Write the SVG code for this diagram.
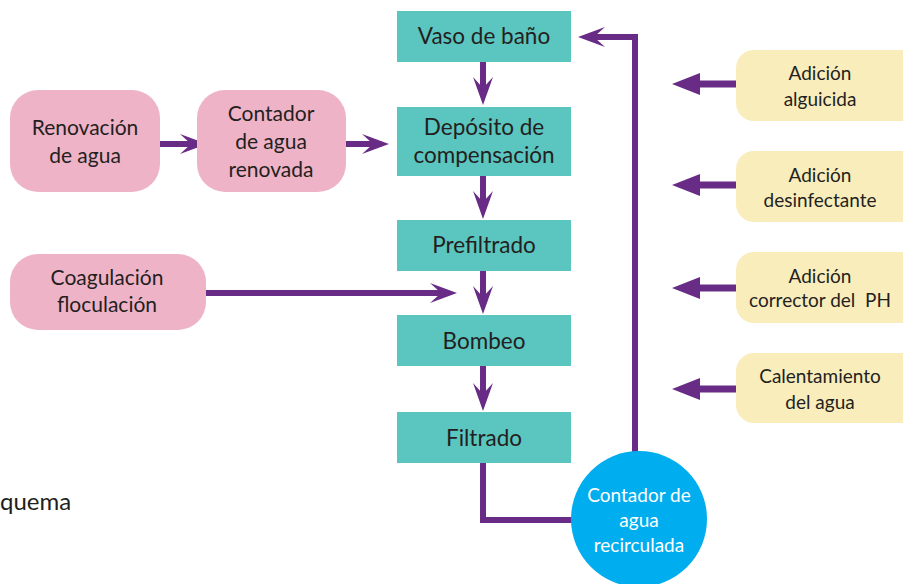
<svg xmlns="http://www.w3.org/2000/svg" width="903" height="584" viewBox="0 0 903 584">
<style>
.teal{fill:#5BC5BF}
.pink{fill:#EFB3C8}
.yel{fill:#F9EDBC}
.t{font-family:Lato,"Open Sans",sans-serif;fill:#231F20;text-anchor:middle}
.t22{font-size:22.5px}
.t20{font-size:21px}
.t18{font-size:19px}
.w{fill:#FFFFFF}
.ln{stroke:#692C86;stroke-width:6;fill:none}
.lnb{stroke:#692C86;stroke-width:7;fill:none}
.hd{fill:#692C86}
</style>
<rect width="903" height="584" fill="#FFFFFF"/>
<g id="connectors">
  <line class="ln" x1="483" y1="62" x2="483" y2="92"/>
  <path class="hd" d="M483,105 L473,77 L483,88 L493,77 Z"/>
  <line class="ln" x1="483" y1="176" x2="483" y2="206"/>
  <path class="hd" d="M483,219 L473,191 L483,202 L493,191 Z"/>
  <line class="ln" x1="483" y1="271" x2="483" y2="301"/>
  <path class="hd" d="M483,314 L473,286 L483,297 L493,286 Z"/>
  <line class="ln" x1="483" y1="366" x2="483" y2="398"/>
  <path class="hd" d="M483,411 L473,383 L483,394 L493,383 Z"/>
  <line class="ln" x1="160" y1="144" x2="195" y2="144"/>
  <path class="hd" d="M207,144 L180,134 L191,144 L180,154 Z"/>
  <line class="ln" x1="346" y1="144" x2="377" y2="144"/>
  <path class="hd" d="M389,144 L362,134 L373,144 L362,154 Z"/>
  <line class="ln" x1="206" y1="293" x2="445" y2="293"/>
  <path class="hd" d="M457,293 L430,283 L441,293 L430,303 Z"/>
  <polyline class="ln" points="483,463 483,520 572,520"/>
  <polyline class="ln" points="635,453 635,37 590,37"/>
  <path class="hd" d="M578,37 L605,27 L594,37 L605,47 Z"/>
  <line class="lnb" x1="736" y1="84" x2="698" y2="84"/>
  <path class="hd" d="M672,84 L700,73 L700,95 Z"/>
  <line class="lnb" x1="736" y1="185" x2="698" y2="185"/>
  <path class="hd" d="M672,185 L700,174 L700,196 Z"/>
  <line class="lnb" x1="736" y1="288" x2="698" y2="288"/>
  <path class="hd" d="M672,288 L700,277 L700,299 Z"/>
  <line class="lnb" x1="736" y1="389" x2="698" y2="389"/>
  <path class="hd" d="M672,389 L700,378 L700,400 Z"/>
</g>
<g id="vaso">
  <rect class="teal" x="397" y="11" width="174" height="51"/>
  <text class="t t22" x="484" y="44">Vaso de baño</text>
</g>
<g id="deposito">
  <rect class="teal" x="397" y="107" width="174" height="69"/>
  <text class="t t22" x="484" y="135">Depósito de</text>
  <text class="t t22" x="484" y="163">compensación</text>
</g>
<g id="prefiltrado">
  <rect class="teal" x="397" y="220" width="174" height="51"/>
  <text class="t t22" x="484" y="253">Prefiltrado</text>
</g>
<g id="bombeo">
  <rect class="teal" x="397" y="315" width="174" height="51"/>
  <text class="t t22" x="484" y="349">Bombeo</text>
</g>
<g id="filtrado">
  <rect class="teal" x="397" y="412" width="174" height="51"/>
  <text class="t t22" x="484" y="446">Filtrado</text>
</g>
<g id="renovacion">
  <rect class="pink" x="10" y="90" width="150" height="102" rx="28"/>
  <text class="t t20" x="85" y="135">Renovación</text>
  <text class="t t20" x="85" y="163">de agua</text>
</g>
<g id="contador-renovada">
  <rect class="pink" x="197" y="90" width="149" height="102" rx="28"/>
  <text class="t t20" x="271" y="121">Contador</text>
  <text class="t t20" x="271" y="149">de agua</text>
  <text class="t t20" x="271" y="177">renovada</text>
</g>
<g id="coagulacion">
  <rect class="pink" x="10" y="254" width="196" height="76" rx="28"/>
  <text class="t t20" x="107" y="285">Coagulación</text>
  <text class="t t20" x="107" y="312">floculación</text>
</g>
<g id="alguicida">
  <rect class="yel" x="736" y="50" width="190" height="71" rx="18"/>
  <text class="t t18" x="820" y="80">Adición</text>
  <text class="t t18" x="820" y="106">alguicida</text>
</g>
<g id="desinfectante">
  <rect class="yel" x="736" y="151" width="190" height="71" rx="18"/>
  <text class="t t18" x="820" y="182">Adición</text>
  <text class="t t18" x="820" y="207">desinfectante</text>
</g>
<g id="corrector">
  <rect class="yel" x="736" y="252" width="190" height="71" rx="18"/>
  <text class="t t18" x="820" y="283">Adición</text>
  <text class="t t18" x="820" y="307" xml:space="preserve">corrector del  PH</text>
</g>
<g id="calentamiento">
  <rect class="yel" x="736" y="353" width="190" height="70" rx="18"/>
  <text class="t t18" x="820" y="383">Calentamiento</text>
  <text class="t t18" x="820" y="409">del agua</text>
</g>
<g id="contador-recirculada">
  <circle cx="639" cy="519" r="68" fill="#00AEEF"/>
  <text class="t t18 w" x="639" y="502">Contador de</text>
  <text class="t t18 w" x="639" y="527">agua</text>
  <text class="t t18 w" x="639" y="552">recirculada</text>
</g>
<text x="0" y="510" style="font-family:Lato,'Open Sans',sans-serif;font-size:24px;fill:#231F20">quema</text>
</svg>
